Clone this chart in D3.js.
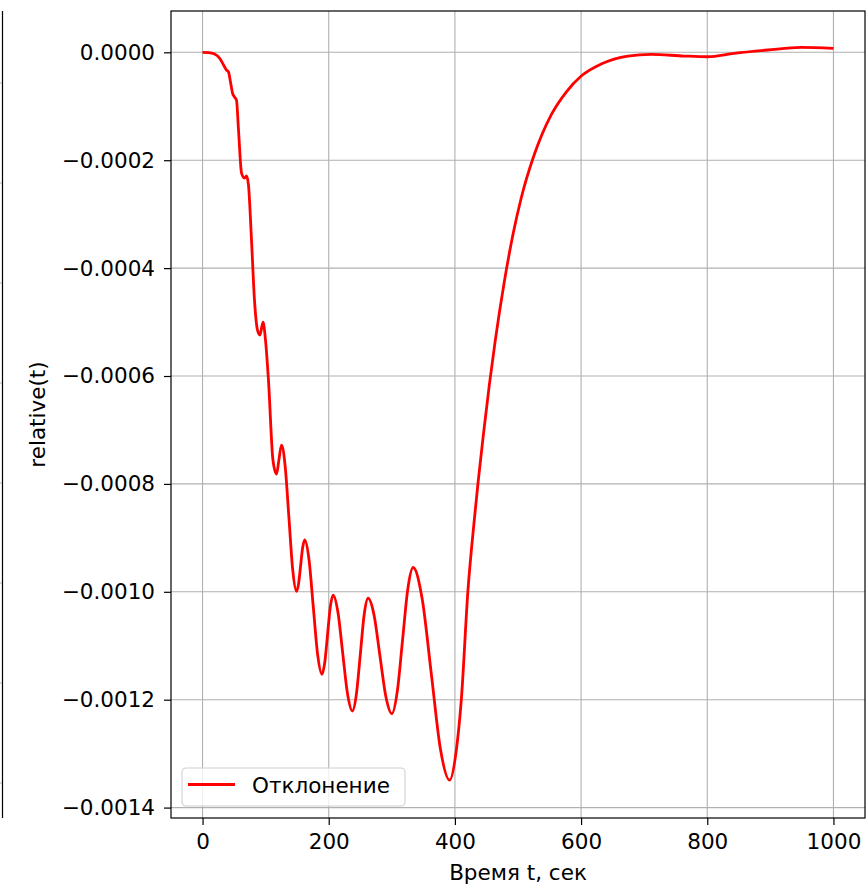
<!DOCTYPE html>
<html>
<head>
<meta charset="utf-8">
<script src="https://cdn.jsdelivr.net/npm/d3@7"></script>
<style>
  body { margin: 0; background: #fff; }
  text { font-family: "DejaVu Sans", sans-serif; fill: #000; }
</style>
</head>
<body>
<div id="chart"></div>
<script>
// Data
var timeValues = [0, 9.5, 19, 26.9, 33.3, 38, 41.2, 44.3, 47.5, 50.7, 53.8, 57, 61.8, 66.5, 69.7, 72.8,
  77.6, 82.3, 87.1, 91.05, 95.8, 99.76, 104.5, 111.6, 117.2, 121.1, 125.1, 131.0, 137.0, 142.9, 148.85,
  152.2, 155.4, 158.7, 162.0, 168.8, 175.6, 182.4, 189.2, 193.7, 198.1, 202.5, 207.0, 214.6, 222.2,
  229.9, 237.5, 243.7, 250.0, 256.2, 262.4, 271.8, 281.2, 290.7, 300.1, 308.5, 316.9, 325.3, 333.7,
  348.1, 362.6, 377.1, 391.6, 402.2, 410.1, 420.7, 430.7, 437.1, 445, 454.5, 464, 478.2, 492.5, 505.1,
  525.7, 552.6, 576.4, 600.2, 631.8, 674.1, 710.9, 763.3, 800.8, 842.4, 895.6, 948.5, 1000];
var deviationValues = [0, -0.0000004, -0.0000032, -0.0000106, -0.0000235, -0.0000328, -0.0000365,
  -0.0000551, -0.0000755, -0.0000829, -0.0000885, -0.000144, -0.000224, -0.000233, -0.000229, -0.000246,
  -0.000348, -0.000459, -0.000515, -0.000524, -0.000500, -0.000533, -0.000608, -0.000756, -0.000782,
  -0.000755, -0.000728, -0.000768, -0.000864, -0.000959, -0.000999,
  -0.000985, -0.000952, -0.000918, -0.000904, -0.000941, -0.001029, -0.001116, -0.001153, -0.001131,
  -0.001080, -0.001028, -0.001006, -0.001038, -0.001114, -0.001190, -0.001221, -0.001191, -0.001117,
  -0.001042, -0.001012, -0.001043, -0.001119, -0.001195, -0.001226, -0.001186, -0.001091, -0.000995,
  -0.000955, -0.001013, -0.001152, -0.001292, -0.001349, -0.001294, -0.001201, -0.000997, -0.000867,
  -0.000793, -0.000710, -0.000617, -0.000534, -0.000426, -0.000335, -0.000270, -0.000190, -0.000116,
  -0.0000736, -0.0000439, -0.0000217, -0.0000069, -0.0000037, -0.0000069, -0.0000082, -0.0000019,
  0.0000043, 0.0000093, 0.0000074];
var xTicks = [0, 200, 400, 600, 800, 1000];
var yTicks = [0, -0.0002, -0.0004, -0.0006, -0.0008, -0.0010, -0.0012, -0.0014];
var seriesName = "Отклонение";
var xTitle = "Время t, сек";
var yTitle = "relative(t)";

var svgWidth = 867;
var svgHeight = 887;

var margin = { top: 11, right: 2, bottom: 69, left: 171 };
var width = svgWidth - margin.left - margin.right;
var height = svgHeight - margin.top - margin.bottom;

var svg = d3.select("#chart")
    .append("svg")
    .attr("width", svgWidth)
    .attr("height", svgHeight);

// neighbouring subplot, only its right edge shows
svg.append("line")
    .attr("x1", 2.5).attr("x2", 2.5)
    .attr("y1", margin.top).attr("y2", margin.top + height)
    .attr("stroke", "#000").attr("stroke-width", 1.2);
svg.selectAll(".nbtick")
    .data(d3.range(8))
    .enter()
    .append("line")
    .attr("x1", 0).attr("x2", 2)
    .attr("y1", d => 83 + d * 100).attr("y2", d => 83 + d * 100)
    .attr("stroke", "#b0b0b0").attr("stroke-width", 1.1);

var chartGroup = svg.append("g")
    .attr("transform", `translate(${margin.left}, ${margin.top})`);

// Scales (matplotlib-like 5% margins)
var xScale = d3.scaleLinear()
    .domain([-50, 1050])
    .range([0, width]);

var yScale = d3.scaleLinear()
    .domain([-0.0014193, 0.0000766])
    .range([height, 0]);

// Grid
chartGroup.append("g")
    .selectAll("line")
    .data(xTicks)
    .enter()
    .append("line")
    .attr("x1", d => xScale(d)).attr("x2", d => xScale(d))
    .attr("y1", 0).attr("y2", height)
    .attr("stroke", "#b0b0b0").attr("stroke-width", 1.1);

chartGroup.append("g")
    .selectAll("line")
    .data(yTicks)
    .enter()
    .append("line")
    .attr("x1", 0).attr("x2", width)
    .attr("y1", d => yScale(d)).attr("y2", d => yScale(d))
    .attr("stroke", "#b0b0b0").attr("stroke-width", 1.1);

// Axes
var bottomAxis = d3.axisBottom(xScale)
    .tickValues(xTicks)
    .tickSize(7)
    .tickPadding(9)
    .tickFormat(d3.format("d"));
var leftAxis = d3.axisLeft(yScale)
    .tickValues(yTicks)
    .tickSize(7)
    .tickPadding(9)
    .tickFormat(d3.format(".4f"));

var xAxisG = chartGroup.append("g")
    .attr("transform", `translate(0, ${height})`)
    .call(bottomAxis);
var yAxisG = chartGroup.append("g")
    .call(leftAxis);

[xAxisG, yAxisG].forEach(function(g) {
    g.select(".domain").remove();
    g.selectAll(".tick line").attr("stroke", "#000").attr("stroke-width", 1.2);
    g.selectAll(".tick text")
      .style("font-family", "DejaVu Sans, sans-serif")
      .style("font-size", "21.5px")
      .attr("fill", "#000");
});

// Line
var line = d3.line()
    .x((d, i) => xScale(timeValues[i]))
    .y(d => yScale(d))
    .curve(d3.curveMonotoneX);

chartGroup.append("path")
    .datum(deviationValues)
    .attr("d", line)
    .attr("fill", "none")
    .attr("stroke", "#ff0000")
    .attr("stroke-width", 2.8)
    .attr("stroke-linejoin", "round");

// Frame
chartGroup.append("rect")
    .attr("x", 0).attr("y", 0)
    .attr("width", width).attr("height", height)
    .attr("fill", "none")
    .attr("stroke", "#000")
    .attr("stroke-width", 1.2);

// Legend
var legend = chartGroup.append("g")
    .attr("transform", `translate(${182 - margin.left}, ${768 - margin.top})`);
legend.append("rect")
    .attr("width", 223).attr("height", 38)
    .attr("rx", 4)
    .attr("fill", "#fff").attr("fill-opacity", 0.8)
    .attr("stroke", "#d0d0d0").attr("stroke-width", 1.1);
legend.append("line")
    .attr("x1", 6).attr("x2", 53)
    .attr("y1", 16.5).attr("y2", 16.5)
    .attr("stroke", "#ff0000").attr("stroke-width", 2.8);
legend.append("text")
    .attr("x", 70).attr("y", 24.5)
    .style("font-size", "21.5px")
    .text(seriesName);

// Axis titles
svg.append("text")
    .attr("x", margin.left + width / 2)
    .attr("y", 880)
    .attr("text-anchor", "middle")
    .style("font-size", "21.5px")
    .text(xTitle);

svg.append("text")
    .attr("transform", `translate(45, ${margin.top + height / 2}) rotate(-90)`)
    .attr("text-anchor", "middle")
    .style("font-size", "21.5px")
    .text(yTitle);
</script>
</body>
</html>
